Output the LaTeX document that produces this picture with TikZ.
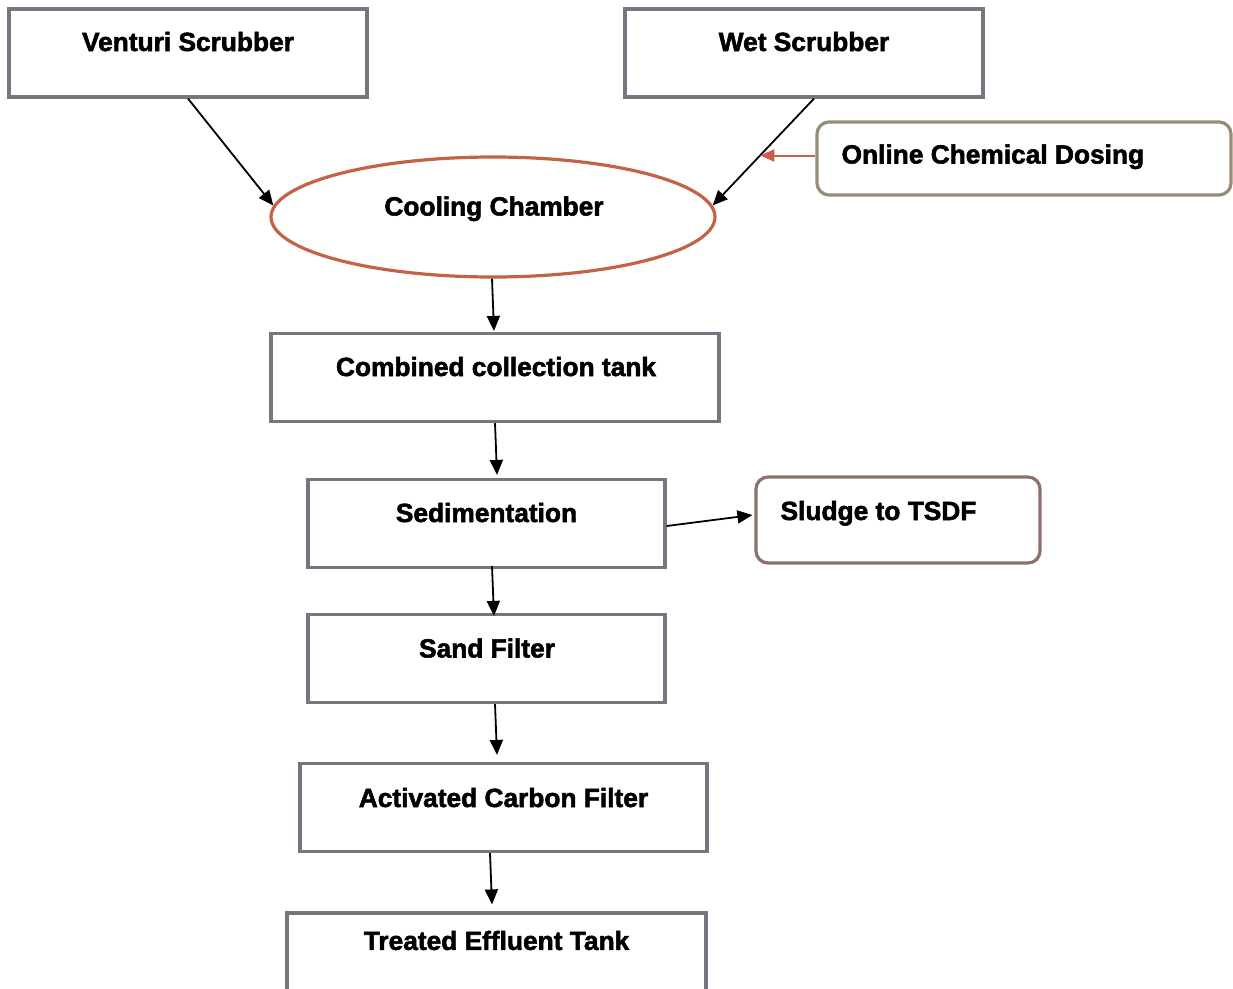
\documentclass[tikz,border=0pt]{standalone}
\usepackage{fontspec}
\setmainfont{Liberation Sans}
\newfontfamily\lblfont[FakeBold=2]{Liberation Sans Bold}
\usetikzlibrary{arrows.meta,shapes.geometric}
\definecolor{boxgray}{HTML}{737880}
\definecolor{dosecol}{HTML}{958D74}
\definecolor{sludgecol}{HTML}{8C706B}
\definecolor{coolcol}{HTML}{C46248}
\tikzset{
  stage/.style={draw=boxgray, line width=3.2pt, fill=white, inner sep=0pt,
    minimum height=88pt},
  sidebox/.style={draw=#1, line width=3.2pt, fill=white, rounded corners=12pt,
    inner sep=0pt},
  chamber/.style={ellipse, draw=coolcol, line width=3.2pt, fill=white,
    inner sep=0pt, minimum width=444pt, minimum height=120pt},
  lbl/.style={font=\fontsize{26.3}{29}\lblfont, inner sep=0pt, anchor=base},
  flow/.style={line width=1.8pt, -{Triangle[length=15pt,width=13pt]}},
  dosing/.style={draw=coolcol, line width=2pt, -{Triangle[length=14pt,width=12pt]}}
}
\begin{document}
\begin{tikzpicture}[x=1pt,y=-1pt]
\useasboundingbox (0,0) rectangle (1233,988);
\clip (0,0) rectangle (1233,988);

% process units
\node[stage, minimum width=358pt] (venturi) at (188,53) {};
\node[stage, minimum width=358pt] (wet) at (804,53) {};
\node[sidebox=dosecol, minimum width=414pt, minimum height=73pt] (dose) at (1024,158.5) {};
\node[chamber] (cool) at (493,217) {};
\node[stage, minimum width=448pt] (comb) at (495,377.5) {};
\node[stage, minimum width=357pt] (sed) at (486.5,523.5) {};
\node[sidebox=sludgecol, minimum width=284pt, minimum height=86pt] (sludge) at (898,520) {};
\node[stage, minimum width=357pt] (sand) at (486.5,658.5) {};
\node[stage, minimum width=407pt] (acf) at (503.5,807.5) {};
\node[stage, minimum width=419pt] (tet) at (496.5,957) {};

% labels
\node[lbl] at ([yshift=2pt]venturi.center) {Venturi Scrubber};
\node[lbl] at ([yshift=2pt]wet.center) {Wet Scrubber};
\node[lbl, anchor=base west] at ([xshift=26pt,yshift=-5pt]dose.west) {Online Chemical Dosing};
\node[lbl] at ([xshift=1pt,yshift=1.5pt]cool.center) {Cooling Chamber};
\node[lbl] at ([xshift=1pt,yshift=1.5pt]comb.center) {Combined collection tank};
\node[lbl] at ([yshift=1.5pt]sed.center) {Sedimentation};
\node[lbl, anchor=base west] at ([xshift=26pt]sludge.west) {Sludge to TSDF};
\node[lbl] at ([xshift=0.5pt,yshift=1pt]sand.center) {Sand Filter};
\node[lbl] at ([yshift=0.5pt]acf.center) {Activated Carbon Filter};
\node[lbl] at ([yshift=-38.5pt]tet.north) {Treated Effluent Tank};

% flow connections
\draw[flow] (venturi.south) -- (cool.177);
\draw[flow] ([xshift=10pt]wet.south) -- (cool.3)
  coordinate[pos=0.53] (mix);
\draw[dosing] ([yshift=3pt]dose.west) -- ([yshift=3pt]dose.west -| mix);
\draw[flow] ([xshift=-1pt]cool.south) -- ([xshift=-1pt,yshift=1pt]comb.north);
\draw[flow] (comb.south) -- ([xshift=10.5pt,yshift=3pt]sed.north);
\draw[flow] ([xshift=5.5pt,yshift=3pt]sed.south) -- ([xshift=7.5pt,yshift=-3pt]sand.north);
\draw[flow] ([xshift=8.5pt]sand.south) -- ([xshift=-6.5pt,yshift=7pt]acf.north);
\draw[flow] ([xshift=-13.5pt]acf.south) -- ([xshift=-4.5pt,yshift=7pt]tet.north);
\draw[flow] ([yshift=-2.5pt]sed.east) -- ([xshift=-2pt,yshift=5pt]sludge.west);
\end{tikzpicture}
\end{document}
